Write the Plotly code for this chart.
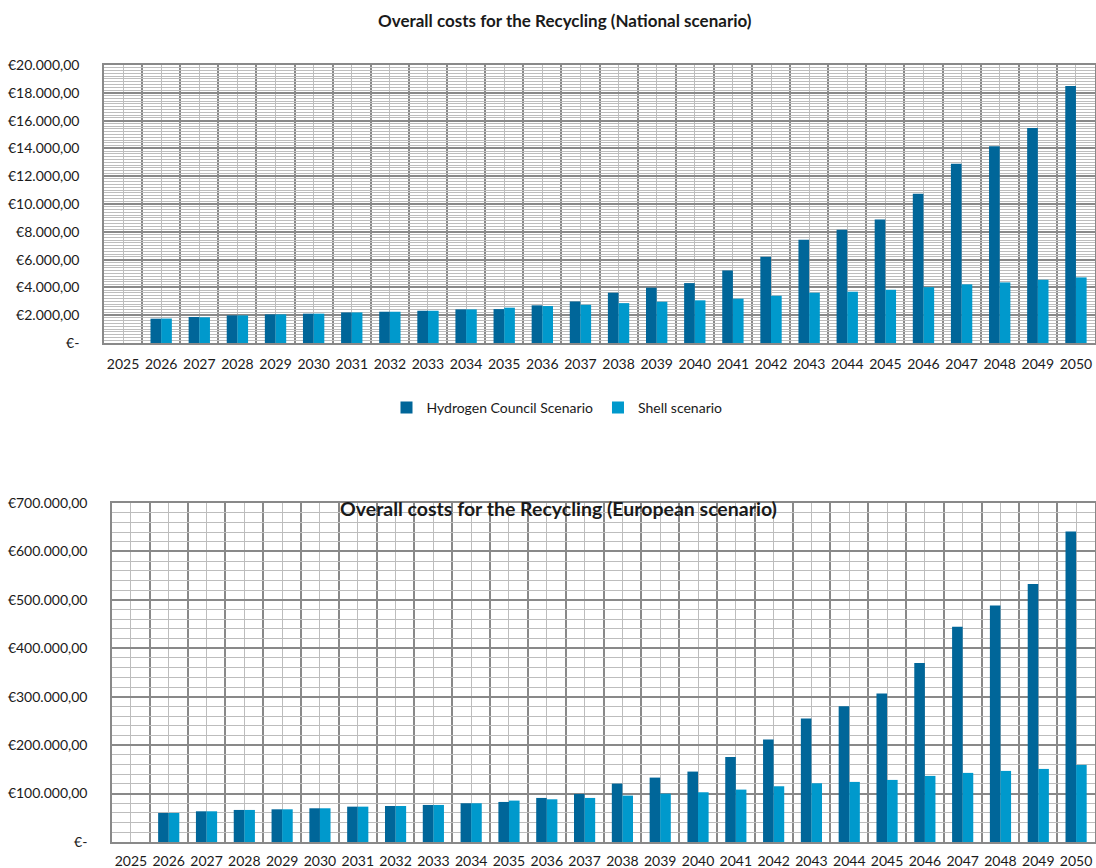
import plotly.graph_objects as go

# Years on the category axis
years = list(range(2025, 2051))

# National scenario costs (EUR)
national_hydrogen_council = [None, 1750, 1870, 1990, 2060, 2110, 2200, 2250, 2320, 2420, 2440,
                             2710, 2990, 3620, 3980, 4310, 5220, 6200, 7430, 8140, 8890,
                             10730, 12890, 14160, 15470, 18490]
national_shell = [None, 1760, 1850, 1990, 2060, 2110, 2200, 2250, 2320, 2420, 2540,
                  2660, 2750, 2870, 2970, 3070, 3190, 3400, 3620, 3690, 3830,
                  4020, 4220, 4360, 4550, 4720]

# European scenario costs (EUR)
european_hydrogen_council = [None, 60000, 63400, 66200, 67500, 69600, 73000, 74400, 76500, 80000,
                             82700, 91000, 99200, 120600, 133000, 145400, 175700, 211600,
                             255000, 280500, 306700, 369400, 444500, 488600, 532700, 640900]
european_shell = [None, 60000, 63400, 66200, 67500, 69600, 73000, 74400, 76500, 80000,
                  85500, 88200, 91000, 95800, 99900, 102700, 108200, 115100,
                  121300, 124100, 128200, 136500, 142700, 146800, 150900, 159200]

national_ticks = list(range(0, 20001, 2000))
european_ticks = list(range(0, 700001, 100000))

DARK = "#006699"
LIGHT = "#0099CC"
MAJOR_GRID = "#898989"
MINOR_GRID = "#bdbdbd"
FONT = "Lato"
TEXT = "#1a1a1a"

W, H = 1096, 868


def euro(v):
    if v == 0:
        return "€-"
    return "€" + f"{v:,.2f}".replace(",", "X").replace(".", ",").replace("X", ".")


fig = go.Figure()

fig.add_trace(go.Bar(x=years, y=national_hydrogen_council, name="Hydrogen Council Scenario",
                     marker=dict(color=DARK, line=dict(width=0)), xaxis="x", yaxis="y"))
fig.add_trace(go.Bar(x=years, y=national_shell, name="Shell scenario",
                     marker=dict(color=LIGHT, line=dict(width=0)), xaxis="x", yaxis="y"))
fig.add_trace(go.Bar(x=years, y=european_hydrogen_council, name="Hydrogen Council Scenario",
                     marker=dict(color=DARK, line=dict(width=0)), xaxis="x2", yaxis="y2",
                     showlegend=False))
fig.add_trace(go.Bar(x=years, y=european_shell, name="Shell scenario",
                     marker=dict(color=LIGHT, line=dict(width=0)), xaxis="x2", yaxis="y2",
                     showlegend=False))


def xaxis_style(left, right, standoff):
    return dict(
        domain=[left / W, right / W],
        range=[years[0] - 0.5, years[-1] + 0.5],
        tickmode="array", tickvals=years, ticktext=[str(y) for y in years],
        showgrid=True, gridcolor=MINOR_GRID, gridwidth=1,
        minor=dict(tick0=years[0] - 0.5, dtick=1, showgrid=True,
                   gridcolor=MAJOR_GRID, gridwidth=1.5, ticklen=0),
        showline=True, mirror=True, linecolor=MAJOR_GRID, linewidth=2,
        ticks="outside", ticklen=standoff, tickcolor="rgba(0,0,0,0)",
        tickfont=dict(family=FONT, size=14, color=TEXT),
        zeroline=False, fixedrange=True, automargin=False,
    )


def yaxis_style(top, bottom, ticks, minor_step):
    return dict(
        domain=[(H - bottom) / H, (H - top) / H],
        range=[0, ticks[-1]],
        tickmode="array", tickvals=ticks, ticktext=[euro(t) for t in ticks],
        showgrid=True, gridcolor=MAJOR_GRID, gridwidth=1.5,
        minor=dict(tick0=0, dtick=minor_step, showgrid=True,
                   gridcolor=MINOR_GRID, gridwidth=1, ticklen=0),
        showline=True, mirror=True, linecolor=MAJOR_GRID, linewidth=1.5,
        ticks="outside", ticklen=20, tickcolor="rgba(0,0,0,0)",
        tickfont=dict(family=FONT, size=14, color=TEXT),
        zeroline=False, fixedrange=True, automargin=False,
    )


fig.update_layout(
    width=W, height=H,
    margin=dict(l=0, r=0, t=0, b=0, autoexpand=False),
    paper_bgcolor="white", plot_bgcolor="white",
    barmode="group", bargap=0.44, bargroupgap=0,
    font=dict(family=FONT, color=TEXT),
    xaxis=xaxis_style(104, 1095, 7),
    yaxis=yaxis_style(65, 343, national_ticks, 200),
    xaxis2=dict(xaxis_style(112, 1095, 5), anchor="y2"),
    yaxis2=dict(yaxis_style(503, 842, european_ticks, 20000), anchor="x2"),
    legend=dict(orientation="h", x=557 / W, xanchor="center", y=(H - 408) / H,
                yanchor="middle", font=dict(family=FONT, size=14, color=TEXT),
                traceorder="normal", tracegroupgap=0,
                bgcolor="rgba(0,0,0,0)"),
    showlegend=True,
    annotations=[
        dict(text="<b>Overall costs for the Recycling (National scenario)</b>",
             x=565 / W, y=(H - 20) / H, xref="paper", yref="paper",
             xanchor="center", yanchor="middle", showarrow=False,
             font=dict(family=FONT, size=17, color=TEXT)),
        dict(text="<b>Overall costs for the Recycling (European scenario)</b>",
             x=558 / W, y=(H - 508) / H, xref="paper", yref="paper",
             xanchor="center", yanchor="middle", showarrow=False,
             font=dict(family=FONT, size=19.5, color=TEXT)),
    ],
)

fig.write_html("out.html")
